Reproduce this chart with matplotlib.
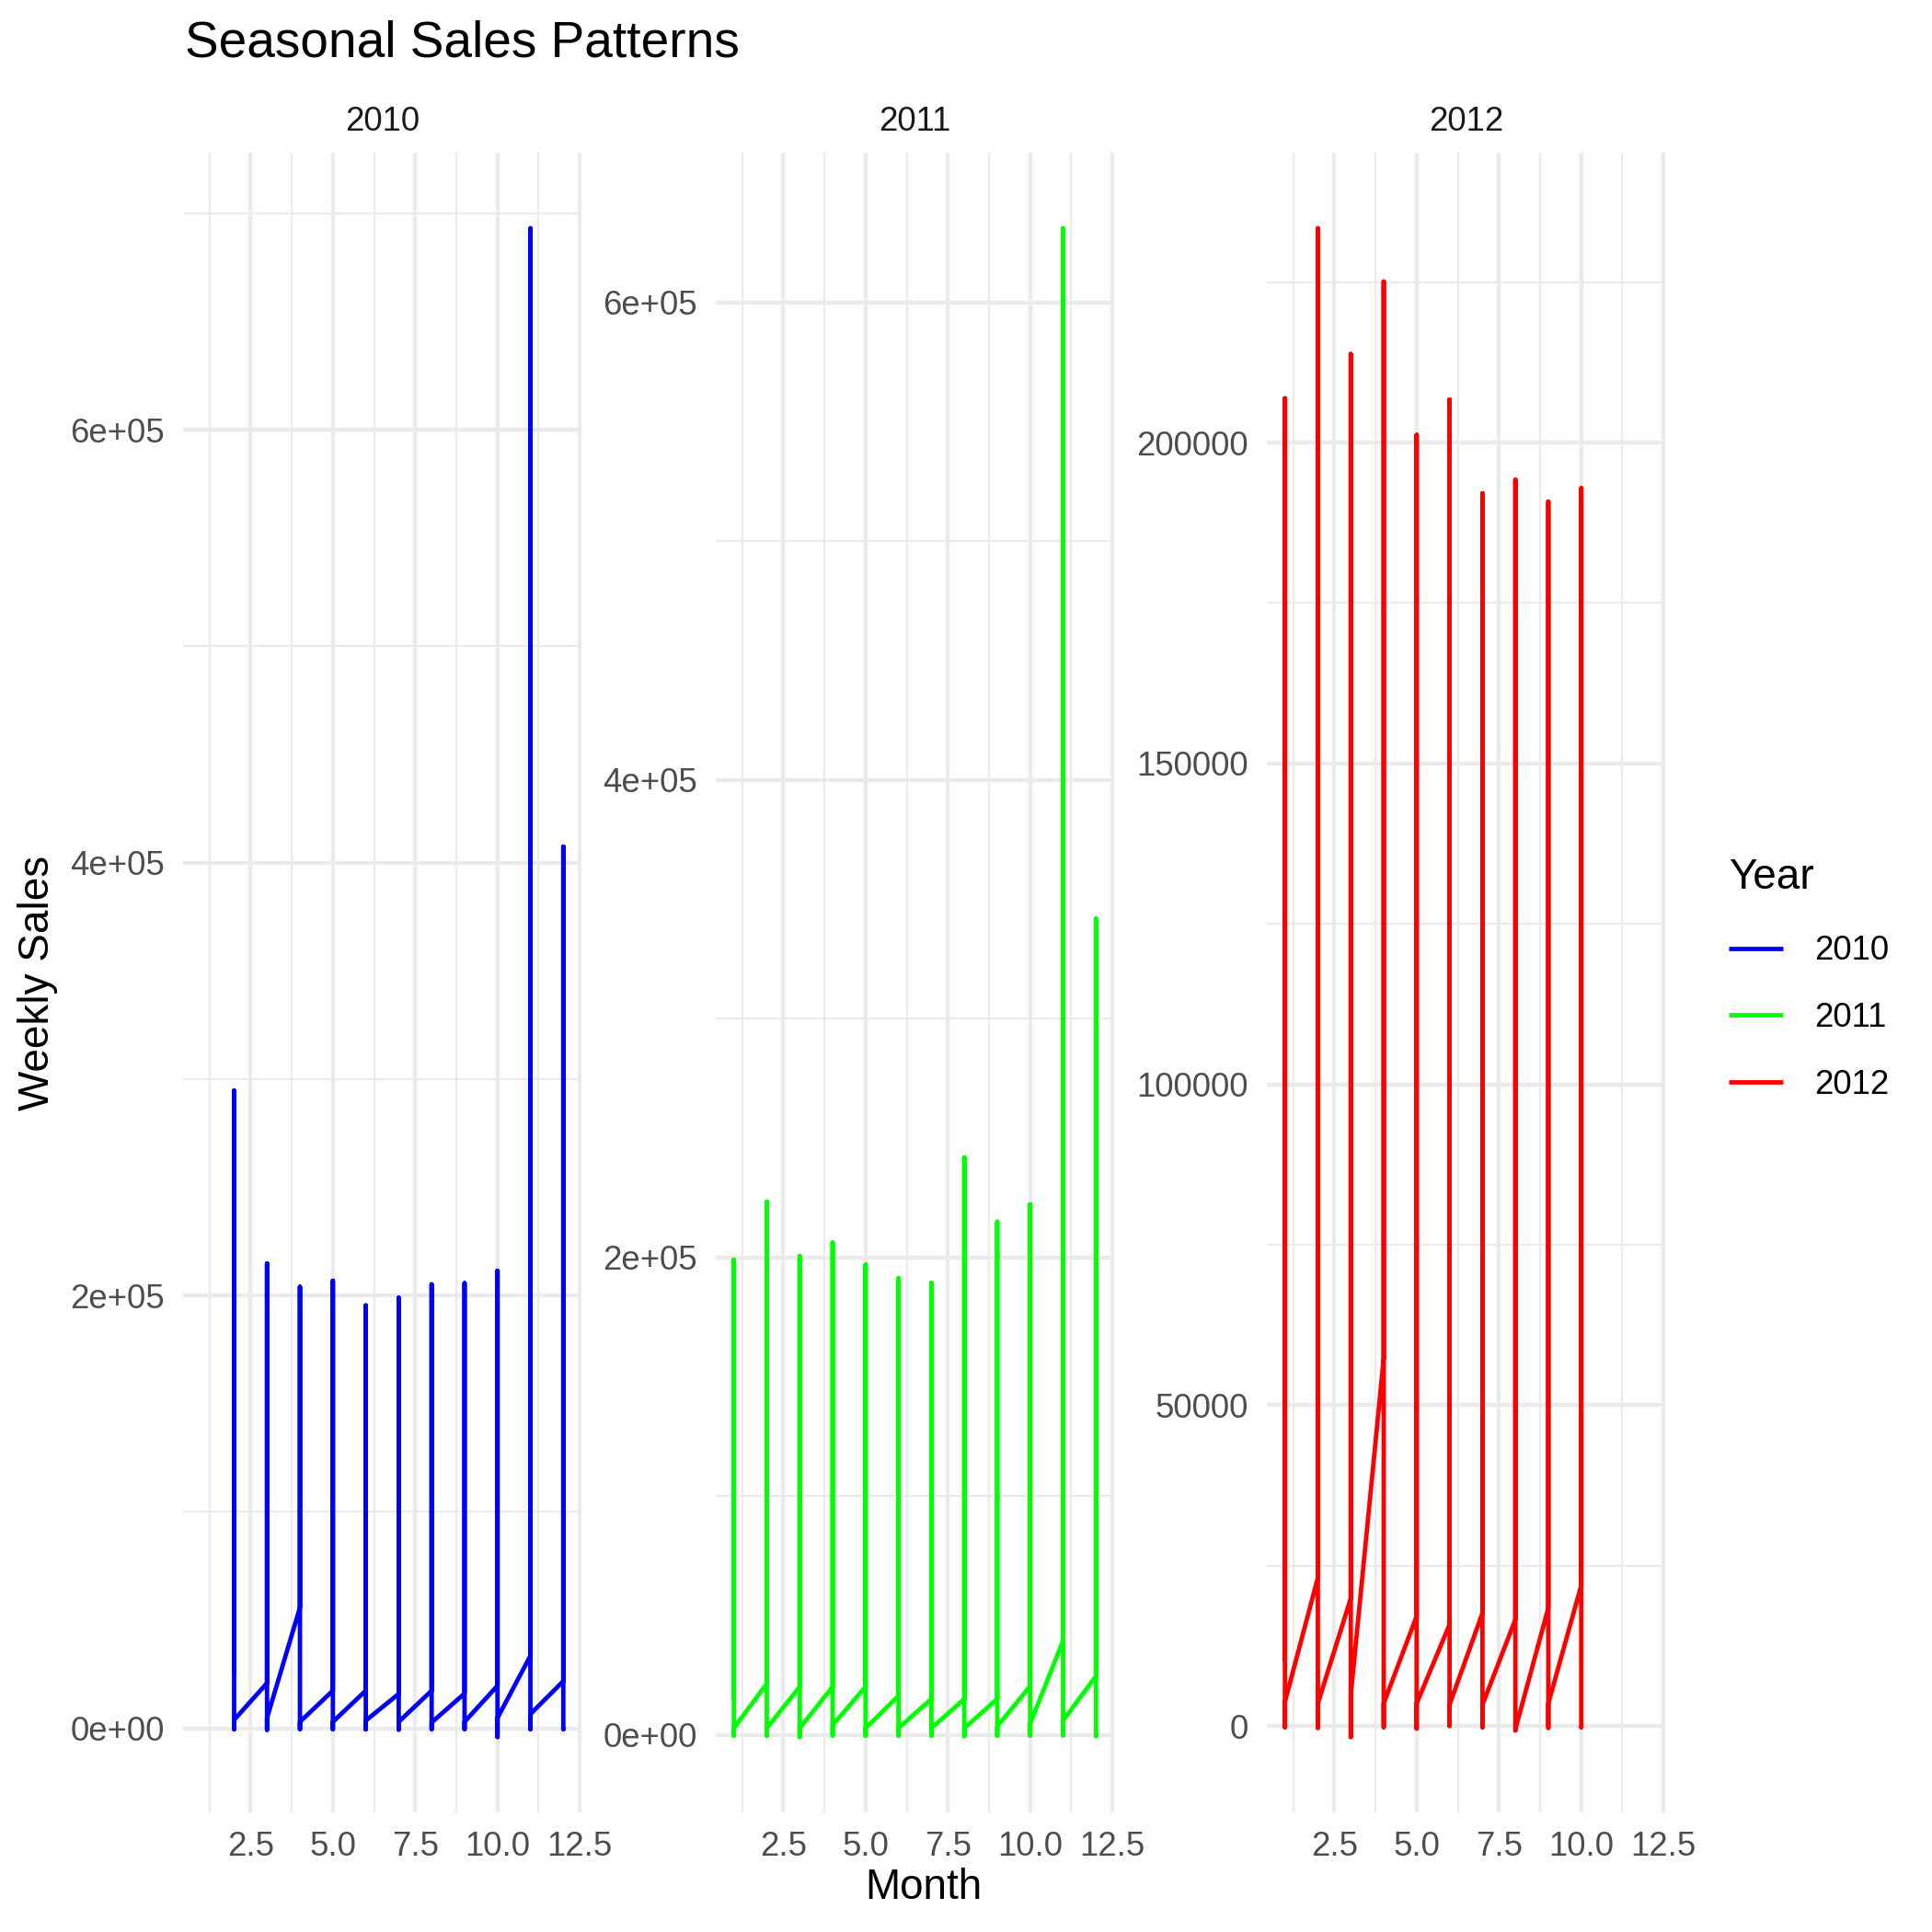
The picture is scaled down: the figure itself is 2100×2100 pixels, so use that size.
import matplotlib
matplotlib.use("Agg")
import matplotlib.pyplot as plt
from matplotlib.ticker import FixedLocator

plt.rcParams['font.family'] = ['Liberation Sans', 'DejaVu Sans']

# values: for each month the line arrives at "first",
# runs up to "peak", down to "low" and leaves from "last"
years = [2010, 2011, 2012]
colors = ['#0000FF', '#00FF00', '#FF0000']

months_2010 = [2, 3, 4, 5, 6, 7, 8, 9, 10, 11, 12]
first_2010 = [24900, 20900, 55800, 17400, 17400, 15900, 17400, 16100, 19700, 33500, 21800]
peak_2010 = [294600, 214800, 204000, 206800, 195400, 198900, 205100, 205700, 211400, 693100, 407400]
low_2010 = [-500, -700, -400, -400, -500, -600, -400, -400, -4000, -400, -400]
last_2010 = [3900, 4800, 3000, 3000, 3600, 3000, 2700, 3000, 4800, 6600, 300]

months_2011 = [1, 2, 3, 4, 5, 6, 7, 8, 9, 10, 11, 12]
first_2011 = [15000, 21400, 20100, 20100, 20100, 16300, 15000, 15000, 15000, 20400, 39400, 24600]
peak_2011 = [199000, 223200, 200500, 206200, 196900, 191200, 189200, 241800, 214900, 222200, 631000, 341800]
low_2011 = [-300, -300, -900, -300, -400, -300, -300, -500, -400, -300, -200, -500]
last_2011 = [2800, 2800, 2800, 4100, 2800, 2800, 2800, 2800, 3500, 4700, 6000, 200]

months_2012 = [1, 2, 3, 4, 5, 6, 7, 8, 9, 10]
first_2012 = [10000, 23100, 19900, 57300, 17100, 15800, 17600, 16600, 18400, 21900]
peak_2012 = [206900, 233400, 213800, 225100, 201200, 206700, 192100, 194200, 190800, 192900]
low_2012 = [-200, -300, -1720, -200, -400, 0, -200, -700, -300, -200]
last_2012 = [3770, 3500, 4800, 3500, 3500, 3300, 3300, -500, 3500, 0]

yticks_2010 = [0, 200000, 400000, 600000]
ylabels_2010 = ['0e+00', '2e+05', '4e+05', '6e+05']
yminor_2010 = [100000, 300000, 500000, 700000]
yticks_2011 = [0, 200000, 400000, 600000]
ylabels_2011 = ['0e+00', '2e+05', '4e+05', '6e+05']
yminor_2011 = [100000, 300000, 500000]
yticks_2012 = [0, 50000, 100000, 150000, 200000]
ylabels_2012 = ['0', '50000', '100000', '150000', '200000']
yminor_2012 = [25000, 75000, 125000, 175000, 225000]

xticks = [2.5, 5.0, 7.5, 10.0, 12.5]
xlabels = ['2.5', '5.0', '7.5', '10.0', '12.5']
xminor = [1.25, 3.75, 6.25, 8.75, 11.25]

data = [
    (months_2010, first_2010, peak_2010, low_2010, last_2010, yticks_2010, ylabels_2010, yminor_2010),
    (months_2011, first_2011, peak_2011, low_2011, last_2011, yticks_2011, ylabels_2011, yminor_2011),
    (months_2012, first_2012, peak_2012, low_2012, last_2012, yticks_2012, ylabels_2012, yminor_2012),
]

fig = plt.figure(figsize=(7, 7), dpi=300)
lefts = [199 / 2100, 778 / 2100, 1377 / 2100]
grid_col = '#EBEBEB'
handles = []

for i, (year, col) in enumerate(zip(years, colors)):
    months, first, peak, low, last, yt, yl, ym = data[i]
    ax = fig.add_axes([lefts[i], 0.0619, 433 / 2100, 0.8590])
    xs, ys = [], []
    for m, a, b, c, d in zip(months, first, peak, low, last):
        xs += [m, m, m, m]
        ys += [a, b, c, d]
    line, = ax.plot(xs, ys, color=col, lw=1.15, solid_joinstyle='round',
                    solid_capstyle='butt', label=str(year), zorder=3)
    handles.append(line)
    ax.set_xlim(0.45, 12.55)
    lo, hi = min(ys), max(ys)
    pad = (hi - lo) * 0.05
    ax.set_ylim(lo - pad, hi + pad)

    ax.set_xticks(xticks)
    ax.set_xticklabels(xlabels)
    ax.xaxis.set_minor_locator(FixedLocator(xminor))
    ax.set_yticks(yt)
    ax.set_yticklabels(yl)
    ax.yaxis.set_minor_locator(FixedLocator(ym))
    ax.grid(which='major', color=grid_col, lw=1.07, zorder=0)
    ax.grid(which='minor', color=grid_col, lw=0.53, zorder=0)
    ax.set_axisbelow(True)
    for s in ax.spines.values():
        s.set_visible(False)
    ax.tick_params(which='both', length=0, labelsize=8.8, labelcolor='#4D4D4D', pad=4.8)
    ax.text(0.5, 1 + 34 / 1804, str(year), transform=ax.transAxes,
            ha='center', va='center', fontsize=8.8, color='#1A1A1A')

fig.text(201 / 2100, 1 - 62 / 2100, 'Seasonal Sales Patterns', fontsize=13.2,
         ha='left', va='baseline', color='black')
fig.text(1004 / 2100, 1 - 2052 / 2100, 'Month', fontsize=11, ha='center', va='center')
fig.text(41 / 2100, 1 - 1068 / 2100, 'Weekly Sales', fontsize=11, rotation=90,
         ha='center', va='center')

leg = fig.legend(handles=handles, labels=[str(y) for y in years], title='Year',
                 loc='upper left', bbox_to_anchor=(1879 / 2100, 1 - 932 / 2100),
                 frameon=False, fontsize=8.8, title_fontsize=11, handlelength=1.6,
                 handletextpad=0.93, labelspacing=1.025, borderpad=0, borderaxespad=0,
                 alignment='left')
leg._legend_box.sep = 9.7

fig.savefig('out.png', dpi=300)
